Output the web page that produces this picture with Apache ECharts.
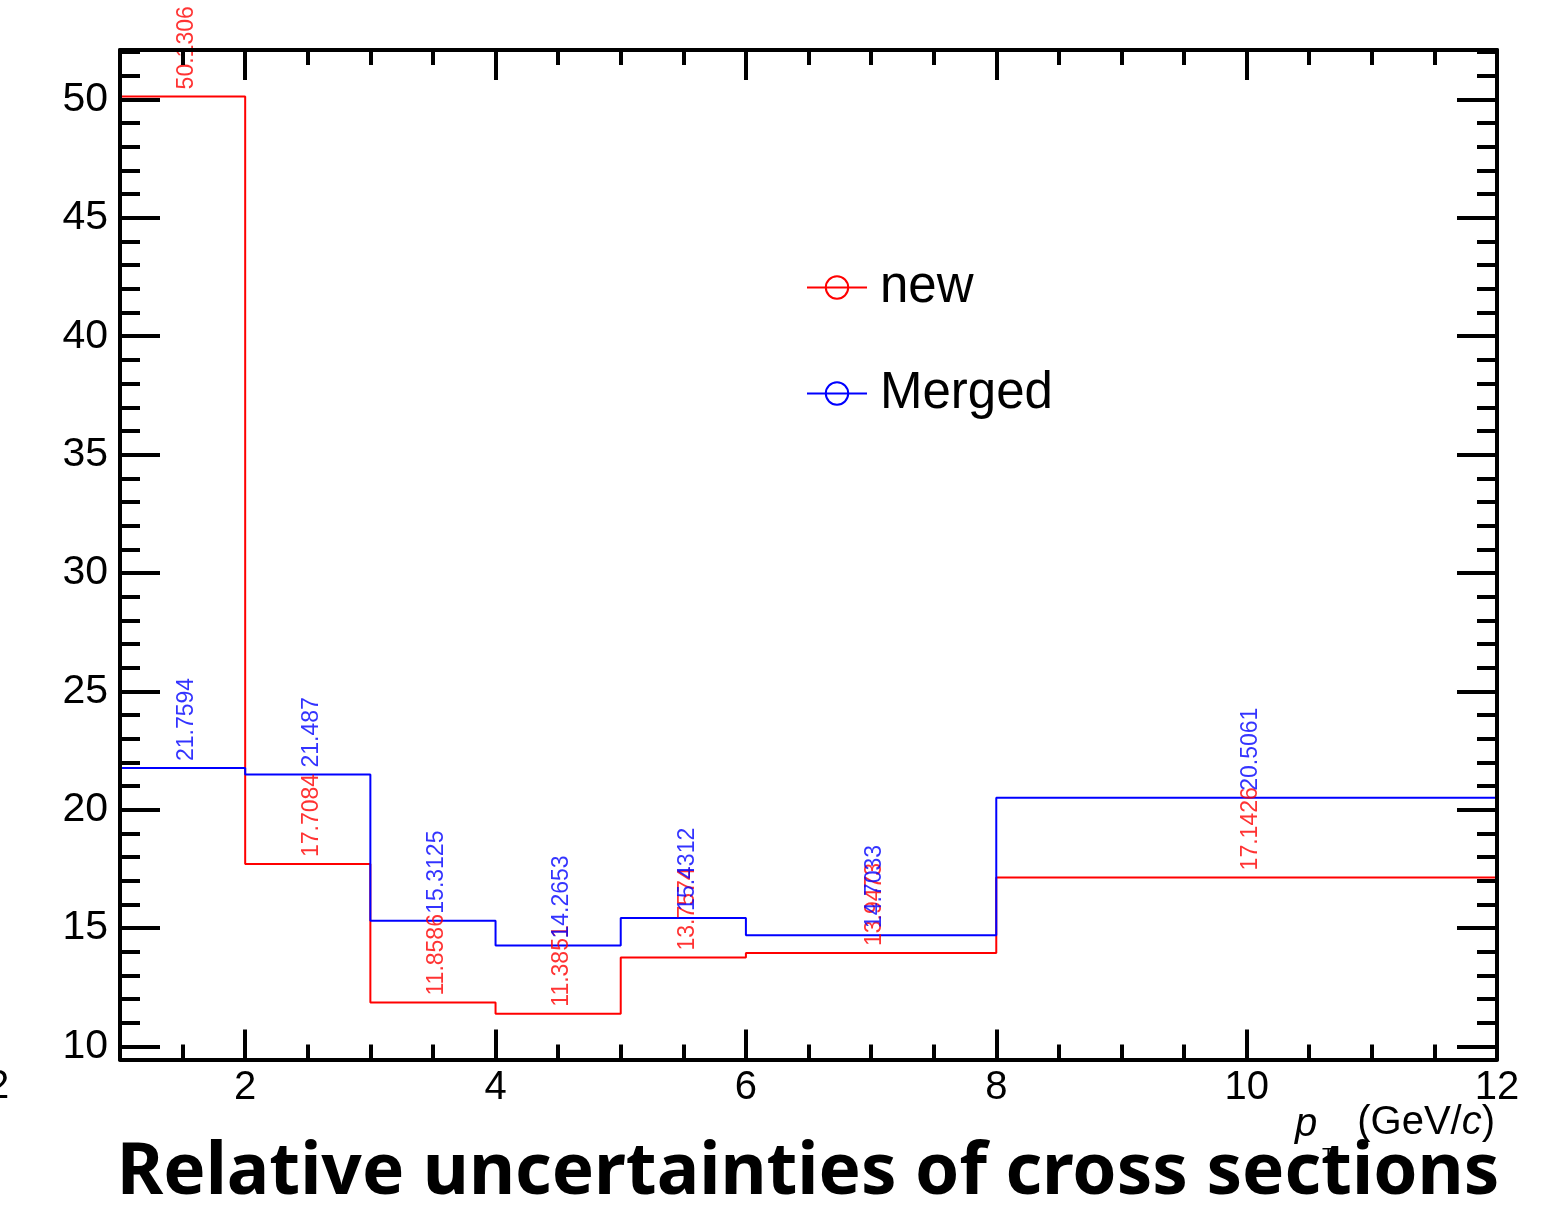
<!DOCTYPE html>
<html>
<head>
<meta charset="utf-8">
<title>Relative uncertainties of cross sections</title>
<script src="https://cdn.jsdelivr.net/npm/echarts@6/dist/echarts.min.js"></script>
<style>
  html, body { margin: 0; padding: 0; background: #fff; }
  #chart { width: 1563px; height: 1211px; }
</style>
</head>
<body>
<div id="chart"></div>
<script>
// pT bin edges (GeV/c) and the relative uncertainty (%) in each bin
const binEdges = [1, 2, 3, 4, 5, 6, 8, 12];
const newValues = [50.1306, 17.7084, 11.8586, 11.3851, 13.7574, 13.9473, 17.1426];
const mergedValues = [21.7594, 21.487, 15.3125, 14.2653, 15.4312, 14.7033, 20.5061];

// axis ticks
const xMajorTicks = [2, 4, 6, 8, 10, 12];
const xMinorTicks = [1.5, 2.5, 3, 3.5, 4.5, 5, 5.5, 6.5, 7, 7.5, 8.5, 9, 9.5, 10.5, 11, 11.5];
const yMajorTicks = [10, 15, 20, 25, 30, 35, 40, 45, 50];
const yMinorTicks = [11, 12, 13, 14, 16, 17, 18, 19, 21, 22, 23, 24, 26, 27, 28, 29,
  31, 32, 33, 34, 36, 37, 38, 39, 41, 42, 43, 44, 46, 47, 48, 49, 51, 52];

const X_MIN = 1, X_MAX = 12, Y_MIN = 9.45, Y_MAX = 52.09;
const FONT = '"Liberation Sans", Arial, Helvetica, sans-serif';
const RED = '#ff0000', BLUE = '#0000ff';

// step outline of a histogram: left edge of every bin, then the last right edge
function histSteps(values) {
  const pts = values.map((v, i) => [binEdges[i], v]);
  pts.push([binEdges[binEdges.length - 1], values[values.length - 1]]);
  return pts;
}
// value labels sit at the bin centres
function binCentres(values) {
  return values.map((v, i) => [(binEdges[i] + binEdges[i + 1]) / 2, v]);
}

function xAxisDef(position, ticks, len, withLine, withLabels) {
  return {
    type: 'value', min: X_MIN, max: X_MAX, position: position, z: 5,
    axisLine: { show: withLine, onZero: false, lineStyle: { color: '#000', width: 4 } },
    axisTick: { show: true, inside: true, length: len, customValues: ticks,
      lineStyle: { color: '#000', width: 4 } },
    axisLabel: withLabels ? { show: true, customValues: ticks, color: '#000',
      fontFamily: FONT, fontSize: 40, margin: 8 } : { show: false },
    splitLine: { show: false }
  };
}
function yAxisDef(position, ticks, len, withLine, withLabels) {
  return {
    type: 'value', min: Y_MIN, max: Y_MAX, position: position, z: 5,
    axisLine: { show: withLine, onZero: false, lineStyle: { color: '#000', width: 4 } },
    axisTick: { show: true, inside: true, length: len, customValues: ticks,
      lineStyle: { color: '#000', width: 4 } },
    axisLabel: withLabels ? { show: true, customValues: ticks, color: '#000',
      fontFamily: FONT, fontSize: 41, margin: 12 } : { show: false },
    splitLine: { show: false }
  };
}

// vertical value text above each bin (offset is in the rotated text frame)
function labelSeries(name, values, color) {
  return {
    name: name, type: 'scatter', data: binCentres(values), symbolSize: 0,
    xAxisIndex: 0, yAxisIndex: 0, silent: true, z: 3,
    label: {
      show: true, position: 'top', distance: 7, rotate: 90,
      align: 'left', verticalAlign: 'middle', offset: [0, 4],
      color: color, fontFamily: FONT, fontSize: 23,
      formatter: p => String(p.value[1])
    }
  };
}

function stepSeries(name, values, color) {
  return {
    name: name, type: 'line', step: 'end', data: histSteps(values),
    xAxisIndex: 0, yAxisIndex: 0, symbol: 'circle', symbolSize: 22, showSymbol: false,
    color: color, lineStyle: { color: color, width: 2 }, z: 2, clip: true
  };
}

const chart = echarts.init(document.getElementById('chart'), null, { renderer: 'canvas' });
chart.setOption({
  animation: false,
  backgroundColor: '#fff',
  grid: { left: 120, right: 66, top: 50, bottom: 151.5, containLabel: false },
  xAxis: [
    xAxisDef('bottom', xMajorTicks, 30, true, true),
    xAxisDef('bottom', xMinorTicks, 15, false, false),
    xAxisDef('top', xMajorTicks, 30, true, false),
    xAxisDef('top', xMinorTicks, 15, false, false)
  ],
  yAxis: [
    yAxisDef('left', yMajorTicks, 40, true, true),
    yAxisDef('left', yMinorTicks, 20, false, false),
    yAxisDef('right', yMajorTicks, 40, true, false),
    yAxisDef('right', yMinorTicks, 20, false, false)
  ],
  legend: {
    data: [
      { name: 'new', itemStyle: { color: 'transparent', borderColor: RED, borderWidth: 2 } },
      { name: 'Merged', itemStyle: { color: 'transparent', borderColor: BLUE, borderWidth: 2 } }
    ],
    orient: 'vertical', left: 806, top: 262, padding: 0,
    itemWidth: 60, itemHeight: 28, itemGap: 55,
    textStyle: { color: '#000', fontFamily: FONT, fontSize: 51, padding: [0, 0, 0, 8] }
  },
  series: [
    stepSeries('new', newValues, RED),
    stepSeries('Merged', mergedValues, BLUE),
    labelSeries('new values', newValues, RED),
    labelSeries('Merged values', mergedValues, BLUE)
  ],
  graphic: [
    { type: 'text', x: -2, y: 1087, z: 10,
      style: { text: '2', font: '40px ' + FONT, fill: '#000', align: 'center', verticalAlign: 'middle' } },
    { type: 'text', x: 1295, y: 1125, z: 10,
      style: { text: 'p', font: 'italic 40px ' + FONT, fill: '#000', align: 'left', verticalAlign: 'middle' } },
    { type: 'text', x: 1495, y: 1123, z: 10,
      style: { text: '(GeV/{i|c})', font: '40px ' + FONT, fill: '#000', align: 'right', verticalAlign: 'middle',
        rich: { i: { fontFamily: FONT, fontSize: 40, fontStyle: 'italic', fill: '#000' } } } },
    { type: 'text', x: 808, y: 1174, z: 10,
      style: { text: 'Relative uncertainties of cross sections', font: 'bold 71px "Noto Sans", sans-serif',
        fill: '#000', align: 'center', verticalAlign: 'middle' } },
    { type: 'text', x: 1322, y: 1156, z: 11,
      style: { text: 'T', font: '21px ' + FONT, fill: '#000', align: 'left', verticalAlign: 'middle' } }
  ]
});
</script>
</body>
</html>
